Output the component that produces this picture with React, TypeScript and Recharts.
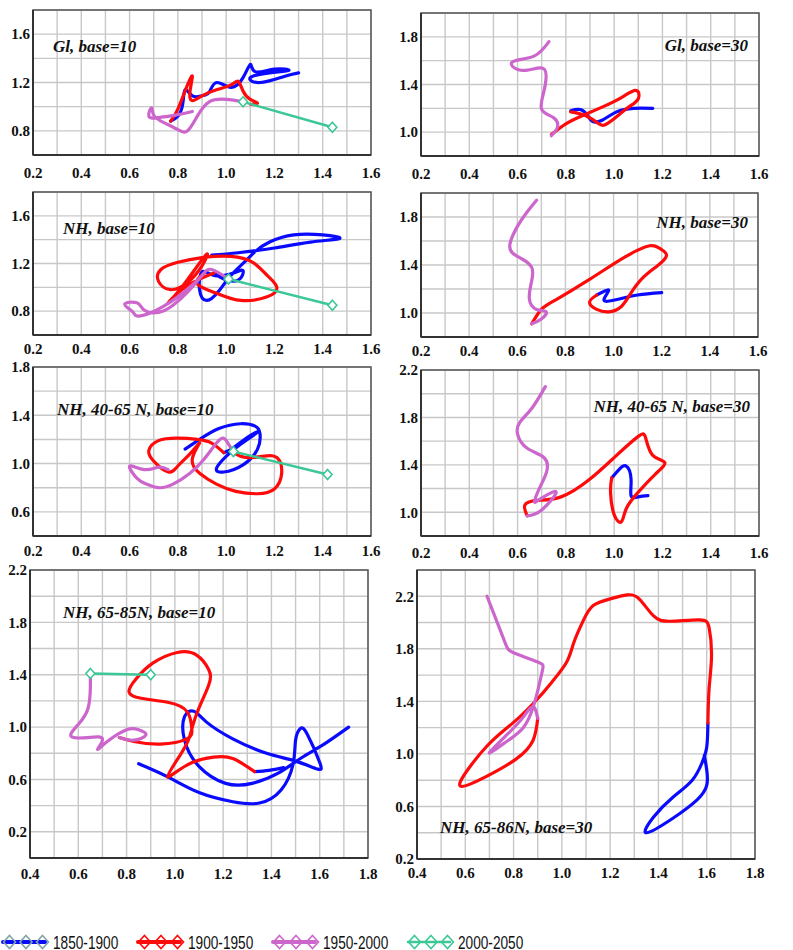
import React from 'react';
import { ComposedChart, Line, XAxis, YAxis, CartesianGrid, ReferenceArea } from 'recharts';

// colours of the four half-century periods
const BLUE = '#0a0aff';
const RED = '#ff0a0a';
const VIOLET = '#cc66cc';
const GREEN = '#3cc896';

const periods = ['1850-1900', '1900-1950', '1950-2000', '2000-2050'];

// axis ticks (grid) and the subset that gets a label
const xTicksA = [0.2, 0.3, 0.4, 0.5, 0.6, 0.7, 0.8, 0.9, 1.0, 1.1, 1.2, 1.3, 1.4, 1.5, 1.6];
const xLabelsA = [0.2, 0.4, 0.6, 0.8, 1.0, 1.2, 1.4, 1.6];
const xTicksB = [0.4, 0.5, 0.6, 0.7, 0.8, 0.9, 1.0, 1.1, 1.2, 1.3, 1.4, 1.5, 1.6, 1.7, 1.8];
const xLabelsB = [0.4, 0.6, 0.8, 1.0, 1.2, 1.4, 1.6, 1.8];
const yTicks0618 = [0.6, 0.8, 1.0, 1.2, 1.4, 1.6, 1.8];
const yLabels0618 = [0.8, 1.2, 1.6];
const yTicks0820 = [0.8, 1.0, 1.2, 1.4, 1.6, 1.8, 2.0];
const yLabels0820 = [1.0, 1.4, 1.8];
const yTicks0418 = [0.4, 0.6, 0.8, 1.0, 1.2, 1.4, 1.6, 1.8];
const yLabels0418 = [0.6, 1.0, 1.4, 1.8];
const yTicks0822 = [0.8, 1.0, 1.2, 1.4, 1.6, 1.8, 2.0, 2.2];
const yLabels0822 = [1.0, 1.4, 1.8, 2.2];
const yTicks0022 = [0, 0.2, 0.4, 0.6, 0.8, 1.0, 1.2, 1.4, 1.6, 1.8, 2.0, 2.2];
const yTicks0224 = [0.2, 0.4, 0.6, 0.8, 1.0, 1.2, 1.4, 1.6, 1.8, 2.0, 2.2, 2.4];
const yLabelsHigh = [0.2, 0.6, 1.0, 1.4, 1.8, 2.2];

// Gl, base=10
const gl10Blue = [[1.30, 1.28], [1.24, 1.25], [1.14, 1.20], [1.10, 1.24], [1.18, 1.28], [1.26, 1.30], [1.20, 1.31], [1.12, 1.29], [1.10, 1.35], [1.07, 1.24], [1.02, 1.16], [0.96, 1.20], [0.93, 1.12], [0.90, 1.09], [0.86, 1.09], [0.83, 1.14], [0.82, 1.02], [0.80, 0.92], [0.77, 0.88]];
const gl10Red = [[0.77, 0.88], [0.80, 0.98], [0.84, 1.18], [0.86, 1.25], [0.85, 1.12], [0.86, 1.05], [0.90, 1.09], [0.96, 1.14], [1.02, 1.18], [1.05, 1.21], [1.07, 1.13], [1.10, 1.06], [1.13, 1.03], [1.10, 1.02]];
const gl10Violet = [[0.86, 0.96], [0.79, 0.93], [0.72, 0.91], [0.68, 0.92], [0.69, 0.99], [0.70, 0.93], [0.74, 0.87], [0.80, 0.81], [0.84, 0.80], [0.88, 0.92], [0.93, 1.04], [1.00, 1.06], [1.07, 1.04]];
const gl10Green = [[1.07, 1.04], [1.44, 0.83]];

// Gl, base=30
const gl30Blue = [[1.16, 1.20], [1.08, 1.20], [1.01, 1.17], [0.95, 1.10], [0.91, 1.09], [0.89, 1.14], [0.86, 1.19], [0.82, 1.18]];
const gl30Red = [[0.82, 1.17], [0.88, 1.14], [0.93, 1.08], [0.96, 1.06], [1.01, 1.13], [1.06, 1.21], [1.10, 1.28], [1.09, 1.35], [1.03, 1.29], [0.95, 1.21], [0.87, 1.14], [0.80, 1.07], [0.74, 0.98]];
const gl30Violet = [[0.74, 0.97], [0.765, 1.04], [0.75, 1.12], [0.70, 1.19], [0.71, 1.35], [0.71, 1.53], [0.64, 1.52], [0.58, 1.55], [0.59, 1.60], [0.67, 1.64], [0.73, 1.76]];

// NH, base=10
const nh10Blue = [[0.94, 1.27], [1.05, 1.29], [1.20, 1.33], [1.35, 1.38], [1.47, 1.41], [1.40, 1.44], [1.28, 1.44], [1.18, 1.38], [1.12, 1.30], [1.08, 1.22], [1.02, 1.10], [0.97, 0.97], [0.92, 0.89], [0.89, 0.98], [0.90, 1.13], [0.95, 1.10], [1.03, 1.12], [1.07, 1.14], [1.05, 1.06], [0.99, 1.07], [0.95, 1.12]];
const nh10Red = [[0.95, 1.12], [0.88, 1.06], [0.81, 0.97], [0.76, 0.87], [0.80, 0.96], [0.86, 1.12], [0.92, 1.28], [0.90, 1.18], [0.84, 1.04], [0.77, 0.98], [0.72, 1.05], [0.73, 1.15], [0.80, 1.21], [0.90, 1.25], [1.02, 1.26], [1.11, 1.21], [1.17, 1.10], [1.21, 1.00], [1.17, 0.92], [1.06, 0.89], [0.96, 0.95], [0.88, 1.03], [0.91, 1.12]];
const nh10Violet = [[0.91, 1.12], [0.86, 1.02], [0.80, 0.92], [0.74, 0.84], [0.68, 0.78], [0.63, 0.76], [0.61, 0.80], [0.58, 0.86], [0.63, 0.87], [0.66, 0.81], [0.72, 0.79], [0.78, 0.85], [0.84, 0.96], [0.90, 1.10], [0.94, 1.15], [1.01, 1.07]];
const nh10Green = [[1.01, 1.07], [1.44, 0.85]];

// NH, base=30
const nh30Blue = [[1.20, 1.17], [1.10, 1.15], [1.01, 1.11], [0.96, 1.11], [0.98, 1.19], [0.93, 1.15]];
const nh30Red = [[0.93, 1.15], [0.90, 1.09], [0.93, 1.03], [0.98, 1.01], [1.03, 1.05], [1.07, 1.16], [1.12, 1.29], [1.18, 1.39], [1.22, 1.48], [1.19, 1.54], [1.15, 1.56], [1.05, 1.47], [0.90, 1.28], [0.76, 1.11], [0.70, 1.03], [0.66, 0.91]];
const nh30Violet = [[0.66, 0.91], [0.70, 0.95], [0.72, 1.01], [0.68, 1.03], [0.65, 1.12], [0.66, 1.27], [0.66, 1.38], [0.62, 1.45], [0.58, 1.50], [0.57, 1.58], [0.60, 1.72], [0.64, 1.84], [0.68, 1.94]];

// NH, 40-65 N, base=10
const mid10Blue = [[0.83, 1.12], [0.89, 1.20], [0.97, 1.29], [1.06, 1.33], [1.12, 1.31], [1.14, 1.25], [1.13, 1.12], [1.07, 0.99], [0.99, 0.93], [0.96, 0.96], [1.00, 1.06], [1.06, 1.16], [1.13, 1.26], [1.09, 1.22], [1.03, 1.13], [0.99, 1.09]];
const mid10Red = [[0.99, 1.09], [0.94, 1.17], [0.88, 1.20], [0.80, 1.21], [0.72, 1.19], [0.68, 1.11], [0.70, 1.02], [0.76, 0.93], [0.80, 0.98], [0.85, 1.08], [0.89, 1.17], [0.86, 1.04], [0.89, 0.92], [0.96, 0.83], [1.04, 0.77], [1.13, 0.75], [1.20, 0.79], [1.23, 0.92], [1.21, 1.05], [1.15, 1.06], [1.08, 1.05], [1.03, 1.09]];
const mid10Violet = [[0.76, 0.95], [0.72, 0.97], [0.66, 0.95], [0.60, 0.98], [0.63, 0.88], [0.67, 0.83], [0.72, 0.80], [0.78, 0.83], [0.85, 0.92], [0.91, 1.04], [0.96, 1.17], [0.99, 1.21], [1.01, 1.16], [1.03, 1.10]];
const mid10Green = [[1.03, 1.10], [1.42, 0.91]];

// NH, 40-65 N, base=30
const mid30Blue = [[1.14, 1.14], [1.10, 1.13], [1.07, 1.14], [1.07, 1.28], [1.05, 1.39], [1.02, 1.36], [0.99, 1.29]];
const mid30Red = [[0.99, 1.29], [0.985, 1.17], [1.00, 0.98], [1.03, 0.92], [1.05, 1.03], [1.10, 1.17], [1.17, 1.32], [1.21, 1.42], [1.16, 1.48], [1.13, 1.63], [1.10, 1.64], [1.01, 1.48], [0.90, 1.28], [0.78, 1.13], [0.68, 1.10], [0.63, 1.06], [0.64, 0.97]];
const mid30Violet = [[0.64, 0.97], [0.70, 1.02], [0.76, 1.17], [0.70, 1.12], [0.67, 1.09], [0.69, 1.20], [0.72, 1.34], [0.71, 1.46], [0.64, 1.54], [0.60, 1.66], [0.61, 1.76], [0.66, 1.88], [0.715, 2.06]];

// NH, 65-85N, base=10
const arc10Blue = [[0.85, 0.72], [0.97, 0.62], [1.10, 0.50], [1.24, 0.43], [1.35, 0.42], [1.44, 0.52], [1.49, 0.72], [1.50, 0.90], [1.52, 0.99], [1.55, 0.94], [1.60, 0.73], [1.59, 0.68], [1.50, 0.74], [1.38, 0.80], [1.24, 0.91], [1.13, 1.04], [1.08, 1.12], [1.04, 1.08], [1.04, 0.90], [1.10, 0.70], [1.21, 0.57], [1.32, 0.57], [1.43, 0.65], [1.52, 0.76], [1.61, 0.86], [1.72, 1.00]];
const arc10BlueTail = [[1.45, 0.69], [1.39, 0.67], [1.33, 0.66]];
const arc10Red = [[1.33, 0.66], [1.24, 0.76], [1.16, 0.77], [1.05, 0.71], [0.97, 0.62], [1.02, 0.78], [1.06, 0.92], [1.09, 1.10], [1.14, 1.32], [1.14, 1.44], [1.09, 1.55], [1.01, 1.57], [0.91, 1.49], [0.84, 1.37], [0.81, 1.27], [0.86, 1.22], [0.97, 1.19], [1.05, 1.12], [1.07, 0.99], [1.05, 0.91], [0.94, 0.87], [0.83, 0.89], [0.77, 0.92]];
const arc10Violet = [[0.77, 0.92], [0.83, 0.90], [0.88, 0.94], [0.85, 0.98], [0.80, 0.98], [0.72, 0.89], [0.68, 0.83], [0.70, 0.91], [0.64, 0.92], [0.57, 0.93], [0.60, 1.02], [0.64, 1.14], [0.65, 1.30], [0.65, 1.41]];
const arc10Green = [[0.65, 1.41], [0.90, 1.40]];

// NH, 65-86N, base=30
const arc30Blue = [[1.59, 0.99], [1.60, 0.88], [1.60, 0.76], [1.56, 0.65], [1.46, 0.51], [1.35, 0.40], [1.38, 0.52], [1.46, 0.67], [1.54, 0.80], [1.58, 0.93], [1.60, 1.05], [1.605, 1.235]];
const arc30Red = [[1.605, 1.235], [1.61, 1.50], [1.62, 1.75], [1.61, 1.96], [1.57, 2.02], [1.45, 2.01], [1.38, 2.05], [1.32, 2.18], [1.27, 2.21], [1.20, 2.18], [1.13, 2.13], [1.09, 2.02], [1.05, 1.85], [1.02, 1.70], [0.96, 1.55], [0.90, 1.42], [0.80, 1.24], [0.69, 1.06], [0.58, 0.79], [0.62, 0.77], [0.70, 0.84], [0.81, 0.96], [0.88, 1.10], [0.90, 1.27]];
const arc30Violet = [[0.90, 1.27], [0.88, 1.36], [0.84, 1.28], [0.78, 1.16], [0.70, 1.01], [0.76, 1.08], [0.84, 1.20], [0.88, 1.35], [0.90, 1.48], [0.92, 1.64], [0.90, 1.70], [0.80, 1.77], [0.76, 1.87], [0.69, 2.20]];

const YW = 32;
const TM = 12;
const RM = 16;
const XH = 28;

const panels = [
  { title: 'Gl, base=10', tl: 53, tt: 38, plotL: 33, plotT: 10, plotW: 338, plotH: 145, xd: [0.2, 1.6], yd: [0.6, 1.8], xt: xTicksA, xl: xLabelsA, yt: yTicks0618, yl: yLabels0618, xm: 12,
    series: [[gl10Blue, BLUE], [gl10Red, RED], [gl10Violet, VIOLET], [gl10Green, GREEN]] },
  { title: 'Gl, base=30', tr: 45, tt: 37, plotL: 421, plotT: 13, plotW: 338, plotH: 143, xd: [0.2, 1.6], yd: [0.8, 2.0], xt: xTicksA, xl: xLabelsA, yt: yTicks0820, yl: yLabels0820, xm: 12,
    series: [[gl30Blue, BLUE], [gl30Red, RED], [gl30Violet, VIOLET]] },
  { title: 'NH, base=10', tl: 63, tt: 220, plotL: 33, plotT: 192, plotW: 338, plotH: 143, xd: [0.2, 1.6], yd: [0.6, 1.8], xt: xTicksA, xl: xLabelsA, yt: yTicks0618, yl: yLabels0618, xm: 8,
    series: [[nh10Blue, BLUE], [nh10Red, RED], [nh10Violet, VIOLET], [nh10Green, GREEN]] },
  { title: 'NH, base=30', tr: 45, tt: 214, plotL: 421, plotT: 193, plotW: 337, plotH: 144, xd: [0.2, 1.6], yd: [0.8, 2.0], xt: xTicksA, xl: xLabelsA, yt: yTicks0820, yl: yLabels0820, xm: 8,
    series: [[nh30Blue, BLUE], [nh30Red, RED], [nh30Violet, VIOLET]] },
  { title: 'NH, 40-65 N, base=10', tl: 57, tt: 401, plotL: 33, plotT: 367, plotW: 338, plotH: 169, xd: [0.2, 1.6], yd: [0.4, 1.8], xt: xTicksA, xl: xLabelsA, yt: yTicks0418, yl: yLabels0418, xm: 9,
    series: [[mid10Blue, BLUE], [mid10Red, RED], [mid10Violet, VIOLET], [mid10Green, GREEN]] },
  { title: 'NH, 40-65 N, base=30', tr: 43, tt: 398, plotL: 421, plotT: 370, plotW: 338, plotH: 166, xd: [0.2, 1.6], yd: [0.8, 2.2], xt: xTicksA, xl: xLabelsA, yt: yTicks0822, yl: yLabels0822, xm: 11,
    series: [[mid30Blue, BLUE], [mid30Red, RED], [mid30Violet, VIOLET]] },
  { title: 'NH, 65-85N, base=10', tl: 63, tt: 604, plotL: 30, plotT: 570, plotW: 338, plotH: 288, xd: [0.4, 1.8], yd: [0, 2.2], xt: xTicksB, xl: xLabelsB, yt: yTicks0022, yl: yLabelsHigh, xm: 10,
    series: [[arc10Blue, BLUE], [arc10BlueTail, BLUE], [arc10Red, RED], [arc10Violet, VIOLET], [arc10Green, GREEN]] },
  { title: 'NH, 65-86N, base=30', tl: 440, tt: 819, plotL: 417, plotT: 570, plotW: 338, plotH: 289, xd: [0.4, 1.8], yd: [0.2, 2.4], xt: xTicksB, xl: xLabelsB, yt: yTicks0224, yl: yLabelsHigh, xm: 8,
    series: [[arc30Blue, BLUE], [arc30Red, RED], [arc30Violet, VIOLET]] },
];

const SERIF = '"Liberation Serif", "Times New Roman", serif';
const pts = (a: number[][]) => a.map(([x, y]) => ({ x, y }));
const labelFmt = (labels: number[]) => (v: number) => (labels.some((l) => Math.abs(l - v) < 1e-6) ? v.toFixed(1) : '');
const tickStyle = { fontFamily: SERIF, fontWeight: 700, fontSize: 15, fill: '#111' };

const PlotDiamond = (p: any) => (
  <path
    key={`dm-${p.index}`}
    d={`M${p.cx},${p.cy - 5}L${p.cx + 4.5},${p.cy}L${p.cx},${p.cy + 5}L${p.cx - 4.5},${p.cy}Z`}
    fill="#fff"
    stroke={GREEN}
    strokeWidth={1.6}
  />
);

function Panel({ cfg }: { cfg: any }) {
  const width = YW + cfg.plotW + RM;
  const height = TM + cfg.plotH + XH;
  return (
    <>
      <div style={{ position: 'absolute', left: cfg.plotL - YW, top: cfg.plotT - TM, fontFamily: SERIF, fontWeight: 700 }}>
        <ComposedChart width={width} height={height} margin={{ top: TM, right: RM, left: 0, bottom: 0 }}>
          <CartesianGrid stroke="#c8c8c8" strokeWidth={1.4} />
          <XAxis type="number" dataKey="x" domain={cfg.xd} ticks={cfg.xt} interval={0} allowDataOverflow height={XH}
            tickSize={0} tickMargin={cfg.xm} tick={tickStyle} tickFormatter={labelFmt(cfg.xl)} axisLine={{ stroke: '#333', strokeWidth: 2 }} />
          <YAxis type="number" domain={cfg.yd} ticks={cfg.yt} interval={0} allowDataOverflow width={YW}
            tickSize={0} tickMargin={3} tick={tickStyle} tickFormatter={labelFmt(cfg.yl)} axisLine={{ stroke: '#333', strokeWidth: 2 }} />
          <ReferenceArea x1={cfg.xd[0]} x2={cfg.xd[1]} y1={cfg.yd[0]} y2={cfg.yd[1]} fill="none" stroke="#555" strokeWidth={1.5} />
          {cfg.series.map(([data, color]: [number[][], string], i: number) => (
            <Line
              key={i}
              data={pts(data)}
              dataKey="y"
              type={color === GREEN ? 'linear' : 'natural'}
              stroke={color}
              strokeWidth={color === GREEN ? 2.5 : 3.2}
              strokeLinecap="round"
              strokeLinejoin="round"
              dot={color === GREEN ? PlotDiamond : false}
              isAnimationActive={false}
            />
          ))}
        </ComposedChart>
      </div>
      <div
        style={{
          position: 'absolute',
          top: cfg.tt,
          left: cfg.tl,
          right: cfg.tr,
          textAlign: cfg.tr !== undefined ? 'right' : 'left',
          fontFamily: SERIF,
          fontWeight: 'bold',
          fontStyle: 'italic',
          fontSize: 17,
          lineHeight: '17px',
          whiteSpace: 'nowrap',
          color: '#111',
        }}
      >
        {cfg.title}
      </div>
    </>
  );
}

const legendItems = [
  { label: periods[0], line: BLUE, marker: '#7fa6a6', x: 3 },
  { label: periods[1], line: RED, marker: RED, x: 138 },
  { label: periods[2], line: VIOLET, marker: VIOLET, x: 273 },
  { label: periods[3], line: GREEN, marker: GREEN, x: 408 },
];

function Legend() {
  const cy = 16;
  return (
    <svg width={793} height={30} style={{ position: 'absolute', left: 0, top: 926 }}>
      {legendItems.map((it) => (
        <g key={it.label}>
          <line x1={it.x} x2={it.x + 42} y1={cy} y2={cy} stroke={it.line} strokeWidth={it.line === GREEN ? 2.5 : 4} strokeLinecap="round" />
          {[6.5, 23, 39.5].map((dx) => (
            <path key={dx} d={`M${it.x + dx},${cy - 6.5}L${it.x + dx + 6},${cy}L${it.x + dx},${cy + 6.5}L${it.x + dx - 6},${cy}Z`}
              fill="none" stroke={it.marker} strokeWidth={1.6} />
          ))}
          <text transform={`translate(${it.x + 50},${cy + 6.5}) scale(0.78,1)`}
            style={{ fontFamily: '"Liberation Sans", Arial, sans-serif', fontSize: 17.5 }} fill="#111">
            {it.label}
          </text>
        </g>
      ))}
    </svg>
  );
}

export default function App() {
  return (
    <div style={{ position: 'absolute', left: 0, top: 0, width: 793, height: 950, background: '#fff' }}>
      <style>{`.recharts-cartesian-axis-tick-value { font-family: "Liberation Serif", "Times New Roman", serif; font-weight: 700; }`}</style>
      {panels.map((p) => (
        <Panel key={p.title} cfg={p} />
      ))}
      <Legend />
    </div>
  );
}
